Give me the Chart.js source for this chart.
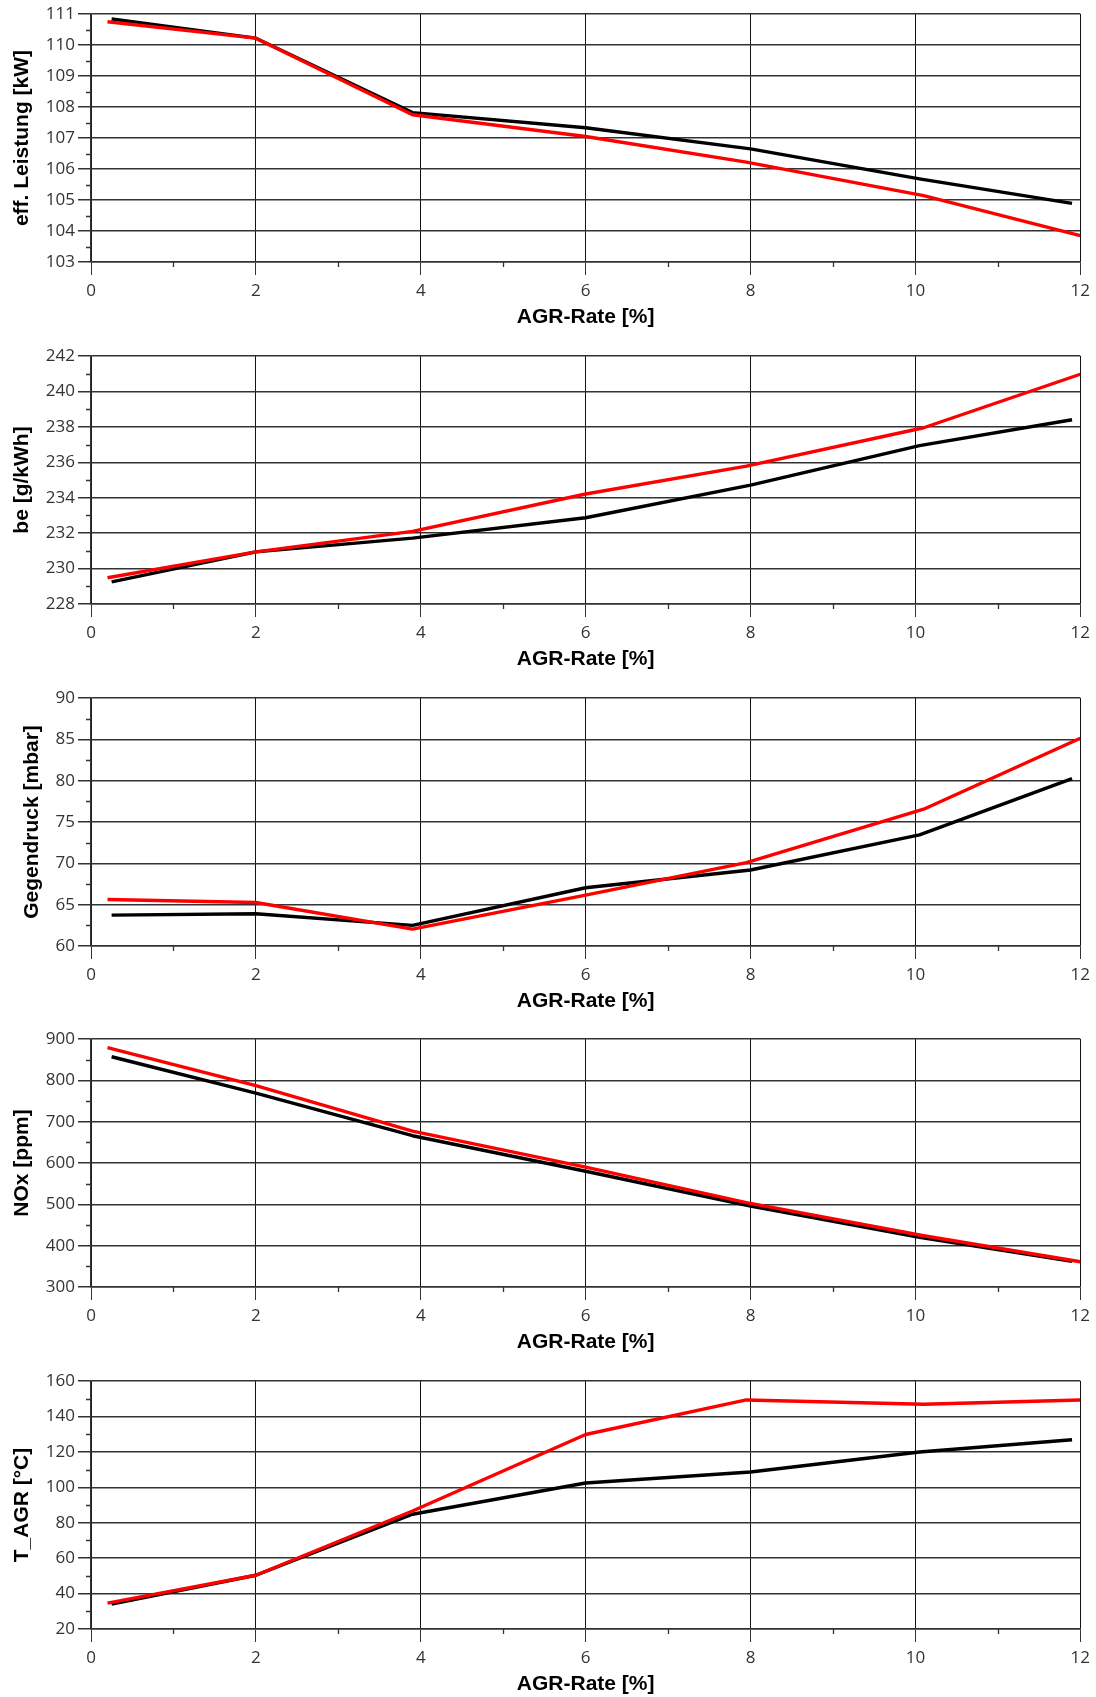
<!DOCTYPE html>
<html>
<head>
<meta charset="utf-8">
<script src="https://cdn.jsdelivr.net/npm/chart.js@4"></script>
<style>
  body { margin:0; background:#fff; width:1096px; height:1697px; overflow:hidden; position:relative; }
  .panel { position:absolute; left:0; width:1096px; height:330px; }
</style>
</head>
<body>
<div class="panel" style="top:0"><canvas id="c-leistung" width="1096" height="330"></canvas></div>
<div class="panel" style="top:342px"><canvas id="c-be" width="1096" height="330"></canvas></div>
<div class="panel" style="top:684px"><canvas id="c-gegendruck" width="1096" height="330"></canvas></div>
<div class="panel" style="top:1025px"><canvas id="c-nox" width="1096" height="330"></canvas></div>
<div class="panel" style="top:1367px"><canvas id="c-tagr" width="1096" height="330"></canvas></div>
<script>
// AGR-Rate [%] of the measured points (black / red run)
const agrBlack = [0.25, 2, 3.9, 6, 8, 10.05, 11.9];
const agrRed   = [0.2, 2, 3.9, 6, 7.95, 10.1, 12];

const leistungBlack = [110.84, 110.22, 107.82, 107.33, 106.65, 105.68, 104.89];
const leistungRed   = [110.75, 110.22, 107.75, 107.05, 106.22, 105.14, 103.85];

const beBlack = [229.25, 230.94, 231.72, 232.87, 234.71, 236.94, 238.4];
const beRed   = [229.48, 230.94, 232.1, 234.21, 235.78, 237.95, 240.97];

const gegendruckBlack = [63.73, 63.9, 62.5, 67.05, 69.19, 73.45, 80.24];
const gegendruckRed   = [65.63, 65.26, 62.05, 66.15, 70.08, 76.55, 85.14];

const noxBlack = [857, 769, 666, 580, 496, 420, 362];
const noxRed   = [879, 787, 677, 590, 504, 424, 361];

const tagrBlack = [34.05, 50.35, 84.8, 102.4, 108.6, 119.9, 126.8];
const tagrRed   = [34.6, 50.35, 86.6, 129.8, 149.3, 146.9, 149.3];

const TICK_FONT  = { family: "'Open Sans', sans-serif", size: 17 };
const TITLE_FONT = { family: "'Liberation Sans', Arial, sans-serif", size: 21, weight: 'bold' };

// short ticks between the labelled ones
const minorTicks = {
  id: 'minorTicks',
  afterDraw(chart) {
    const { ctx, chartArea: a, scales: { x, y } } = chart;
    ctx.save();
    ctx.strokeStyle = '#333';
    ctx.lineWidth = 1.3;
    ctx.beginPath();
    for (let v = 1; v < 12; v += 2) {
      const px = Math.round(x.getPixelForValue(v)) + 0.5;
      ctx.moveTo(px, a.bottom);
      ctx.lineTo(px, a.bottom + 5);
    }
    const step = y.options.ticks.stepSize;
    for (let v = y.min + step / 2; v < y.max; v += step) {
      const py = Math.round(y.getPixelForValue(v)) + 0.5;
      ctx.moveTo(a.left - 5, py);
      ctx.lineTo(a.left, py);
    }
    ctx.stroke();
    ctx.restore();
  }
};

const pts = (xs, ys) => ys.map((y, i) => ({ x: xs[i], y }));

function makePanel(id, label, yMin, yMax, yStep, black, red, titlePad) {
  new Chart(document.getElementById(id), {
    type: 'line',
    data: {
      datasets: [
        { data: pts(agrRed, red),     borderColor: '#ff0000', borderWidth: 3.4, pointRadius: 0, borderJoinStyle: 'round' },
        { data: pts(agrBlack, black), borderColor: '#000000', borderWidth: 3.4, pointRadius: 0, borderJoinStyle: 'round' }
      ]
    },
    options: {
      responsive: false,
      animation: false,
      layout: { padding: { top: 14, right: 12, left: 0, bottom: 0 } },
      plugins: { legend: { display: false }, tooltip: { enabled: false } },
      scales: {
        x: {
          type: 'linear', min: 0, max: 12,
          ticks: { stepSize: 2, color: '#333', font: TICK_FONT, padding: 6, maxRotation: 0 },
          grid: { color: '#111', lineWidth: 1, tickLength: 13, tickColor: '#333' },
          border: { color: '#333', width: 1.5 },
          title: { display: true, text: 'AGR-Rate [%]', color: '#000', font: TITLE_FONT, padding: { top: 0, bottom: 0 } },
          afterFit: s => { s.height = 68; }
        },
        y: {
          min: yMin, max: yMax,
          ticks: { stepSize: yStep, color: '#333', font: TICK_FONT, padding: 3 },
          grid: { color: '#333', lineWidth: 1.5, tickLength: 13, tickColor: '#333' },
          border: { color: '#333', width: 1.5 },
          title: { display: true, text: label, color: '#000', font: TITLE_FONT, padding: { top: titlePad, bottom: 0 } },
          afterFit: s => { s.width = 91; }
        }
      }
    },
    plugins: [minorTicks]
  });
}

makePanel('c-leistung',   'eff. Leistung [kW]', 103, 111, 1,   leistungBlack,   leistungRed,   10);
makePanel('c-be',         'be [g/kWh]',         228, 242, 2,   beBlack,         beRed,         10);
makePanel('c-gegendruck', 'Gegendruck [mbar]',  60,  90,  5,   gegendruckBlack, gegendruckRed, 20);
makePanel('c-nox',        'NOx [ppm]',          300, 900, 100, noxBlack,        noxRed,        10);
makePanel('c-tagr',       'T_AGR [°C]',         20,  160, 20,  tagrBlack,       tagrRed,       10);
</script>
</body>
</html>
